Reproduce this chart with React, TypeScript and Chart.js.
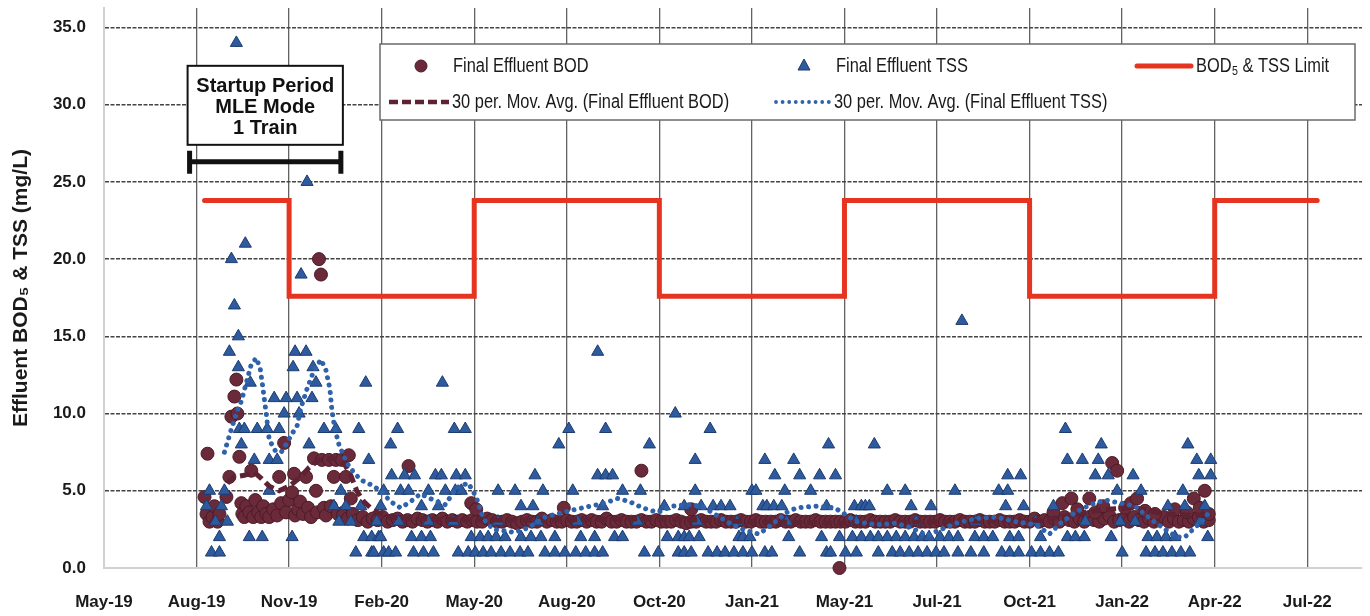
import React, { useEffect, useRef } from 'react';
import { Chart, registerables } from 'chart.js';

Chart.register(...registerables);

// ---------------- data ----------------
const xTickLabels = ['May-19', 'Aug-19', 'Nov-19', 'Feb-20', 'May-20', 'Aug-20', 'Oct-20', 'Jan-21', 'May-21', 'Jul-21', 'Oct-21', 'Jan-22', 'Apr-22', 'Jul-22'];
const DAYS_PER_TICK = 93;
const X_MAX_DAYS = 1264;
const yTickValues = [0, 5, 10, 15, 20, 25, 30, 35];
const Y_MAX = 36.26;

// permit limit (value held from each change day to the next)
const limitChangeDays = [101, 186, 372, 558, 744, 930, 1116, 1219];
const limitValues = [23.8, 17.6, 23.8, 17.6, 23.8, 17.6, 23.8, 23.8];

// startup period annotation
const startupPeriodDays = [86, 238];
const startupBracketValue = 26.3;

// Final effluent TSS  [day, mg/L]
const tssSamples: [number, number][] = [
  [103, 4], [106, 5], [108, 1], [112, 3], [116, 1], [116, 2], [118, 4], [121, 5], [124, 3], [126, 14], [128, 20], [131, 17], [133, 34], [135, 15], [135, 13], [136, 9], [138, 8], [141, 9], [142, 21], [146, 2], [147, 12], [151, 7], [154, 9], [159, 2], [164, 9], [166, 7], [166, 5], [171, 11], [174, 7], [176, 9], [181, 10], [183, 11], [189, 2], [190, 13], [192, 14], [194, 11], [196, 10], [198, 19], [203, 14], [204, 25], [206, 8], [209, 11], [210, 13], [213, 12], [221, 9], [231, 4], [233, 9], [236, 3], [238, 5], [243, 4], [248, 3],
  [253, 1], [256, 9], [258, 4], [261, 2], [263, 12], [266, 7], [269, 1], [269, 2], [271, 1], [274, 3], [276, 2], [278, 2], [278, 4], [281, 1], [281, 5], [286, 1], [288, 8], [289, 6], [293, 1], [295, 9], [296, 3], [298, 5], [302, 6], [306, 5], [309, 2], [311, 1], [312, 6], [319, 2], [319, 4], [321, 1], [326, 5], [326, 3], [328, 2], [331, 1], [333, 6], [336, 4], [339, 6], [340, 12], [343, 5], [351, 3], [352, 9], [353, 5], [354, 6], [356, 1], [359, 5], [363, 9], [363, 6], [366, 1], [369, 2], [373, 1], [378, 2], [381, 1], [386, 2], [389, 1], [394, 2], [396, 5], [396, 3], [399, 1], [403, 2], [408, 1], [413, 5], [418, 1], [419, 2], [419, 4], [426, 1], [429, 2], [431, 4], [433, 6], [436, 3], [439, 2], [441, 5], [443, 1], [453, 2], [453, 1], [457, 8], [463, 1], [467, 9], [471, 5], [474, 1], [476, 3], [479, 2], [484, 1], [493, 2], [493, 1], [496, 6], [496, 14], [501, 1], [501, 4], [504, 9], [504, 6], [511, 6], [513, 2], [521, 2], [521, 5],
  [536, 3], [539, 5], [543, 1], [548, 8], [557, 1], [563, 4], [566, 2], [574, 10], [577, 1], [577, 2], [583, 4], [583, 2], [583, 1], [588, 2], [590, 1], [594, 7], [594, 5], [596, 3], [598, 2], [600, 4], [607, 1], [609, 9], [612, 4], [616, 1], [620, 4], [624, 1], [629, 4], [633, 1], [636, 3], [638, 2], [642, 1], [642, 2], [649, 2], [651, 1], [651, 5], [655, 5], [662, 4], [664, 1], [664, 7], [666, 4], [671, 1], [673, 4], [674, 6], [681, 4], [684, 5], [686, 3], [688, 2], [693, 7], [699, 6], [699, 1], [710, 5], [719, 6], [721, 2], [726, 4], [726, 1], [728, 8], [730, 1], [735, 6], [739, 2], [745, 1], [752, 2], [754, 4], [756, 1], [756, 3], [761, 2], [761, 4], [765, 4], [769, 4], [770, 2], [774, 8], [778, 1], [778, 2], [787, 2], [787, 5], [792, 1], [796, 2], [800, 1], [805, 2], [805, 5], [809, 1], [811, 4], [814, 2], [816, 3], [818, 1], [822, 2], [827, 1], [829, 2], [831, 4], [836, 1], [840, 2], [844, 1], [849, 2], [855, 5], [858, 1], [858, 2], [862, 16], [871, 1], [875, 2], [876, 3], [884, 1], [884, 2], [893, 2],
  [899, 5], [902, 1], [906, 4], [908, 5], [908, 6], [910, 1], [910, 2], [919, 1], [919, 2], [921, 6], [924, 4], [932, 1], [936, 3], [941, 1], [941, 2], [950, 1], [954, 4], [959, 1], [966, 9], [968, 7], [968, 2], [976, 2], [983, 7], [985, 2], [986, 3], [996, 6], [999, 7], [1002, 8], [1009, 6], [1012, 2], [1018, 5], [1021, 3], [1023, 1], [1034, 6], [1036, 3], [1042, 5], [1047, 1], [1049, 2], [1056, 1], [1058, 2], [1064, 1], [1067, 2], [1069, 4], [1073, 1], [1076, 2], [1082, 1], [1084, 5], [1086, 4], [1089, 8], [1091, 1], [1098, 7], [1100, 6], [1101, 3], [1106, 4], [1109, 2], [1112, 7], [1112, 6],
];

// Final effluent BOD during startup  [day, mg/L]
const bodStartupSamples: [number, number][] = [
  [101, 4.6], [103, 3.5], [104, 7.4], [106, 3.0], [109, 3.3], [111, 4.0], [114, 3.0], [116, 3.5], [123, 4.6], [126, 5.9], [128, 9.8], [131, 11.1], [133, 12.2], [134, 10.0], [136, 7.2], [138, 4.2], [139, 3.5], [141, 3.3], [143, 4.0], [146, 3.6], [148, 6.3], [150, 3.3], [152, 4.4], [155, 3.6], [158, 3.3], [160, 4.0], [163, 3.5], [166, 3.3], [170, 3.8], [174, 3.4], [176, 5.9], [178, 4.2], [181, 8.1], [183, 3.6], [186, 4.4], [189, 4.9], [191, 6.1], [192, 3.4], [195, 3.8], [197, 4.3], [200, 3.5], [203, 5.9], [205, 3.9], [208, 3.3], [211, 7.1], [213, 5.0], [214, 3.6], [216, 20.0], [218, 19.0], [219, 7.0], [221, 3.9], [223, 3.4], [226, 7.0], [228, 4.0], [231, 5.9], [233, 7.0], [235, 3.5], [239, 7.0], [241, 3.6], [243, 5.9], [246, 7.3], [248, 4.5], [250, 3.3],
];

// Routine BOD results (sampled every 5 days)
const bodRoutineStartDay = 240;
const bodRoutineStepDays = 5;
const bodRoutineValues = [
  3.4, 3.2, 3.5, 3.1, 3.3, 3.0, 3.2, 3.1, 3.3, 3.0, 3.1, 3.2, 3.0, 3.1, 3.0, 3.2, 3.1, 3.0, 3.1, 3.0, 3.2, 3.0, 3.1, 3.0, 3.1,
  3.0, 3.1, 3.0, 3.0, 3.2, 3.1, 3.0, 3.0, 3.1, 3.0, 2.9, 3.0, 3.1, 3.0, 3.0, 3.2, 3.0, 3.1, 3.0, 3.0, 3.1, 3.0, 3.0, 3.1, 3.0,
  3.1, 3.0, 3.0, 3.2, 3.0, 3.0, 3.1, 3.0, 3.0, 3.0, 3.1, 3.0, 3.0, 3.1, 3.0, 3.0, 3.0, 3.1, 3.0, 2.9, 3.0, 3.0, 3.1, 3.0, 3.0,
  3.0, 3.1, 3.0, 3.0, 3.0, 3.1, 3.0, 3.0, 3.1, 3.0, 3.0, 3.0, 3.0, 3.1, 3.0, 3.0, 3.1, 3.0, 3.0, 3.0, 3.1, 3.0, 3.0, 3.0, 3.0,
  3.0, 3.0, 3.1, 3.0, 3.0, 3.0, 3.1, 3.0, 3.0, 3.0, 3.0, 3.1, 3.0, 3.0, 3.0, 3.1, 3.0, 3.0, 3.0, 3.0, 3.1, 3.0, 3.0, 3.0, 3.1,
  3.0, 3.0, 3.0, 3.1, 3.0, 3.0, 3.0, 3.1, 3.0, 3.0, 3.0, 3.1, 3.0, 3.0, 3.2, 3.0, 3.1, 3.0, 3.2, 3.0, 3.3, 3.1, 3.0, 3.2, 3.0,
  3.3, 3.1, 3.0, 3.2, 3.4, 3.0, 3.1, 3.2, 3.0, 3.3, 3.1, 3.0, 3.2, 3.0, 3.1, 3.3, 3.0, 3.2, 3.0, 3.1, 3.0, 3.2, 3.3, 3.0, 3.1,
];

// BOD results off the routine level  [day, mg/L]
const bodEventSamples: [number, number][] = [
  [306, 6.6], [369, 4.2], [374, 3.8], [462, 3.9], [540, 6.3], [590, 3.8], [739, 0.0], [954, 3.6], [963, 4.2], [972, 4.5], [978, 3.8], [990, 4.5], [996, 3.6], [1004, 4.0], [1013, 6.8], [1018, 6.3], [1026, 3.9], [1032, 4.2], [1038, 4.5], [1046, 3.7], [1056, 3.5], [1076, 3.8], [1088, 3.6], [1095, 4.5], [1101, 3.9], [1106, 5.0], [1110, 3.5],
];

// 30-period moving averages  [day, mg/L]
const tssMovingAvg: [number, number][] = [
  [121, 7.5], [128, 9.0], [134, 10.2], [138, 10.8], [143, 12.0], [148, 13.2], [153, 13.6], [157, 12.9], [160, 11.5], [163, 10.0], [166, 8.3], [172, 7.6], [178, 7.5], [183, 8.0], [189, 8.7], [194, 9.2], [198, 10.4], [204, 11.6], [211, 12.8], [218, 13.5], [223, 12.8], [227, 11.6], [229, 10.2], [232, 9.0], [236, 8.0], [244, 6.8], [251, 6.2], [258, 5.7], [268, 5.4], [278, 5.0], [288, 4.3], [298, 3.9], [308, 4.3], [318, 4.8], [331, 4.4], [343, 4.1], [354, 5.2], [366, 5.5], [374, 4.6], [381, 3.2], [391, 2.5], [403, 2.4], [413, 2.3], [426, 2.6], [443, 3.3], [461, 3.6], [481, 3.9], [503, 4.2], [516, 4.5], [528, 4.3], [541, 3.9], [556, 3.6], [571, 4.0], [586, 4.1], [601, 4.0], [616, 3.4], [631, 2.8], [646, 2.4], [658, 2.2], [671, 2.8], [686, 3.6], [696, 3.9], [716, 4.0], [734, 3.9], [744, 3.5], [756, 3.0], [776, 2.8], [796, 2.9], [811, 2.6], [827, 2.1], [841, 2.5], [856, 2.9], [876, 3.2], [896, 3.3], [916, 3.0], [936, 2.8], [950, 2.2], [961, 2.9], [976, 3.6], [991, 4.1], [1006, 4.4], [1021, 4.2], [1036, 4.0], [1051, 3.2], [1066, 2.5], [1078, 2.0], [1086, 2.0], [1096, 2.6], [1106, 3.2], [1112, 3.8],
];
const bodMovingAvg: [number, number][] = [
  [124, 5.5], [131, 5.9], [141, 6.0], [151, 6.2], [158, 5.8], [166, 5.3], [176, 5.0], [186, 5.3], [196, 5.8], [206, 6.5], [216, 7.0], [231, 7.1], [241, 6.8], [248, 6.0], [254, 5.0], [261, 4.3], [271, 3.7], [286, 3.3], [316, 3.2], [376, 3.1], [456, 3.1], [546, 3.2], [646, 3.0], [746, 2.9], [846, 3.0], [946, 3.1], [976, 3.5], [1006, 3.8], [1036, 3.9], [1066, 3.5], [1096, 3.4], [1112, 3.5],
];

// ---------------- styling ----------------
const BOD_FILL = '#6b2a39';
const BOD_EDGE = '#4a1b27';
const TSS_FILL = '#2d5b9e';
const TSS_EDGE = '#1c3b6f';
const LIMIT_RED = '#e5341f';
const TSS_AVG = '#2f62ab';
const BOD_AVG = '#5e2232';
const TEXT = '#1a1a1a';

function fontAvailable(name: string): boolean {
  const c = document.createElement('canvas').getContext('2d');
  if (!c) return false;
  const t = 'abcdefghijklmnopqrstuvwxyz ABCDEFGHIJ 0123456789';
  c.font = '40px monospace';
  const w0 = c.measureText(t).width;
  c.font = `40px "${name}", monospace`;
  const w1 = c.measureText(t).width;
  return Math.abs(w0 - w1) > 0.5;
}
const HAS_NARROW = typeof document !== 'undefined' && fontAvailable('Liberation Sans Narrow');
const NARROW_FAMILY = HAS_NARROW ? '"Liberation Sans Narrow", "Liberation Sans", Arial, sans-serif' : '"Liberation Sans", Arial, sans-serif';
const tickFont = HAS_NARROW ? { family: NARROW_FAMILY, size: 20, weight: 'bold' as const } : { family: NARROW_FAMILY, size: 17, weight: 'bold' as const };
const titleFont = HAS_NARROW ? { family: NARROW_FAMILY, size: 26, weight: 'bold' as const, lineHeight: 1.2 } : { family: NARROW_FAMILY, size: 21, weight: 'bold' as const, lineHeight: 1.2 };

function narrowText(ctx: CanvasRenderingContext2D, text: string, x: number, y: number, size: number, bold = false): number {
  ctx.save();
  let w: number;
  if (HAS_NARROW) {
    ctx.font = `${bold ? 'bold ' : ''}${size}px "Liberation Sans Narrow"`;
    ctx.fillText(text, x, y);
    w = ctx.measureText(text).width;
  } else {
    ctx.font = `${bold ? 'bold ' : ''}${size}px "Liberation Sans"`;
    w = ctx.measureText(text).width * 0.82;
    ctx.translate(x, y);
    ctx.scale(0.82, 1);
    ctx.fillText(text, 0, 0);
  }
  ctx.restore();
  return w;
}

const overlayPlugin = {
  id: 'overlay',
  afterDatasetsDraw(chart: any) {
    const ctx: CanvasRenderingContext2D = chart.ctx;
    const xs = chart.scales.x;
    const ys = chart.scales.y;
    ctx.save();

    // ----- legend -----
    const L = { left: 380, top: 44, right: 1355, bottom: 120 };
    ctx.fillStyle = '#ffffff';
    ctx.fillRect(L.left, L.top, L.right - L.left, L.bottom - L.top);
    ctx.strokeStyle = '#6a6a6a';
    ctx.lineWidth = 1.5;
    ctx.strokeRect(L.left, L.top, L.right - L.left, L.bottom - L.top);
    const r1 = 66;
    const r2 = 102;
    ctx.textBaseline = 'middle';
    ctx.textAlign = 'left';

    ctx.beginPath();
    ctx.arc(421, r1, 6, 0, Math.PI * 2);
    ctx.fillStyle = BOD_FILL;
    ctx.fill();
    ctx.strokeStyle = BOD_EDGE;
    ctx.lineWidth = 1;
    ctx.stroke();
    ctx.fillStyle = TEXT;
    narrowText(ctx, 'Final Effluent BOD', 453, r1, 20);

    ctx.beginPath();
    ctx.moveTo(804, r1 - 7);
    ctx.lineTo(810, r1 + 4);
    ctx.lineTo(798, r1 + 4);
    ctx.closePath();
    ctx.fillStyle = TSS_FILL;
    ctx.fill();
    ctx.strokeStyle = TSS_EDGE;
    ctx.stroke();
    ctx.fillStyle = TEXT;
    narrowText(ctx, 'Final Effluent TSS', 836, r1, 20);

    ctx.beginPath();
    ctx.moveTo(1137, r1);
    ctx.lineTo(1191, r1);
    ctx.strokeStyle = LIMIT_RED;
    ctx.lineWidth = 5;
    ctx.lineCap = 'round';
    ctx.stroke();
    ctx.fillStyle = TEXT;
    let tx = 1196;
    tx += narrowText(ctx, 'BOD', tx, r1, 20);
    tx += narrowText(ctx, '5', tx + 0.5, r1 + 5, 13) + 0.5;
    narrowText(ctx, ' & TSS Limit', tx, r1, 20);

    ctx.beginPath();
    ctx.setLineDash([9, 4]);
    ctx.lineCap = 'butt';
    ctx.moveTo(389, r2);
    ctx.lineTo(449, r2);
    ctx.strokeStyle = BOD_AVG;
    ctx.lineWidth = 4.5;
    ctx.stroke();
    ctx.setLineDash([]);
    ctx.fillStyle = TEXT;
    narrowText(ctx, '30 per. Mov. Avg. (Final Effluent BOD)', 452, r2, 20);

    ctx.fillStyle = TSS_AVG;
    for (let dx = 776; dx <= 829; dx += 6.6) {
      ctx.beginPath();
      ctx.arc(dx, r2, 1.9, 0, Math.PI * 2);
      ctx.fill();
    }
    ctx.fillStyle = TEXT;
    narrowText(ctx, '30 per. Mov. Avg. (Final Effluent TSS)', 834, r2, 20);

    // ----- startup period annotation -----
    const bx0 = xs.getPixelForValue(startupPeriodDays[0]);
    const bx1 = xs.getPixelForValue(startupPeriodDays[1]);
    const by = ys.getPixelForValue(startupBracketValue);
    const boxL = bx0 - 2;
    const boxR = bx1 + 2;
    const boxT = by - 96;
    const boxB = by - 17;
    ctx.fillStyle = '#ffffff';
    ctx.fillRect(boxL, boxT, boxR - boxL, boxB - boxT);
    ctx.strokeStyle = '#111';
    ctx.lineWidth = 2;
    ctx.strokeRect(boxL, boxT, boxR - boxL, boxB - boxT);
    ctx.fillStyle = '#111';
    ctx.textAlign = 'center';
    ctx.font = 'bold 20px "Liberation Sans", Arial, sans-serif';
    const cx = (boxL + boxR) / 2;
    ctx.fillText('Startup Period', cx, boxT + 21);
    ctx.fillText('MLE Mode', cx, boxT + 42);
    ctx.fillText('1 Train', cx, boxT + 63);

    ctx.beginPath();
    ctx.strokeStyle = '#111';
    ctx.lineWidth = 5;
    ctx.lineCap = 'butt';
    ctx.moveTo(bx0, by);
    ctx.lineTo(bx1, by);
    ctx.moveTo(bx0, by - 11);
    ctx.lineTo(bx0, by + 12);
    ctx.moveTo(bx1, by - 11);
    ctx.lineTo(bx1, by + 12);
    ctx.stroke();

    ctx.restore();
  },
};

const toXY = (arr: [number, number][]) => arr.map(([x, y]) => ({ x, y }));

export default function App() {
  const ref = useRef<HTMLCanvasElement>(null);

  useEffect(() => {
    const canvas = ref.current;
    if (!canvas) return;

    const bodRoutine: [number, number][] = bodRoutineValues.map((v, i) => [bodRoutineStartDay + i * bodRoutineStepDays, v]);
    const bodAll = [...bodStartupSamples, ...bodRoutine, ...bodEventSamples];
    const limitData = limitChangeDays.map((d, i) => ({ x: d, y: limitValues[i] }));

    const chart = new Chart(canvas, {
      type: 'scatter',
      data: {
        datasets: [
          {
            label: 'BOD5 & TSS Limit',
            data: limitData,
            showLine: true,
            stepped: true,
            borderColor: LIMIT_RED,
            borderWidth: 5,
            borderCapStyle: 'round',
            borderJoinStyle: 'miter',
            pointRadius: 0,
            order: 0,
          } as any,
          {
            label: '30 per. Mov. Avg. (Final Effluent TSS)',
            data: toXY(tssMovingAvg),
            showLine: true,
            borderColor: TSS_AVG,
            borderWidth: 5,
            borderDash: [0.01, 7.5],
            borderCapStyle: 'round',
            pointRadius: 0,
            order: 1,
          } as any,
          {
            label: '30 per. Mov. Avg. (Final Effluent BOD)',
            data: toXY(bodMovingAvg),
            showLine: true,
            borderColor: BOD_AVG,
            borderWidth: 5,
            borderDash: [10, 5],
            pointRadius: 0,
            order: 2,
          } as any,
          {
            label: 'Final Effluent TSS',
            data: toXY(tssSamples),
            pointStyle: 'triangle',
            pointRadius: 7,
            backgroundColor: TSS_FILL,
            borderColor: TSS_EDGE,
            borderWidth: 1,
            order: 3,
          } as any,
          {
            label: 'Final Effluent BOD',
            data: toXY(bodAll),
            pointStyle: 'circle',
            pointRadius: 6.5,
            backgroundColor: BOD_FILL,
            borderColor: BOD_EDGE,
            borderWidth: 1,
            clip: false,
            order: 4,
          } as any,
        ],
      },
      options: {
        responsive: false,
        animation: false,
        events: [],
        layout: { padding: { top: 5, right: 3, bottom: 0, left: 0 } },
        plugins: {
          legend: { display: false },
          tooltip: { enabled: false },
        },
        scales: {
          x: {
            type: 'linear',
            min: 0,
            max: X_MAX_DAYS,
            afterBuildTicks: (s: any) => {
              s.ticks = xTickLabels.map((_, i) => ({ value: i * DAYS_PER_TICK }));
            },
            afterFit: (s: any) => {
              s.height = 48;
            },
            ticks: {
              callback: (v: any) => xTickLabels[Math.round(Number(v) / DAYS_PER_TICK)] ?? '',
              font: tickFont,
              color: TEXT,
              padding: 24,
              maxRotation: 0,
              autoSkip: false,
            },
            grid: {
              color: (c: any) => (c.index === 0 ? 'rgba(0,0,0,0)' : '#626262'),
              lineWidth: 1.3,
              drawTicks: false,
            },
            border: { display: true, color: '#d2d2d2', width: 2 },
          },
          y: {
            type: 'linear',
            min: 0,
            max: Y_MAX,
            afterBuildTicks: (s: any) => {
              s.ticks = yTickValues.map((v) => ({ value: v }));
            },
            afterFit: (s: any) => {
              s.width = 104;
              s.paddingTop = 0;
              s.paddingBottom = 0;
            },
            ticks: {
              callback: (v: any) => Number(v).toFixed(1),
              font: tickFont,
              color: TEXT,
              padding: 18,
            },
            grid: {
              color: (c: any) => (c.index === 0 ? 'rgba(0,0,0,0)' : '#454545'),
              lineWidth: 1.6,
              drawTicks: false,
            },
            border: { display: true, color: '#d2d2d2', width: 2, dash: [4, 1.5] },
            title: {
              display: true,
              text: 'Effluent BOD\u2085 & TSS (mg/L)',
              font: titleFont,
              color: TEXT,
              padding: { top: 9, bottom: 0 },
            },
          },
        },
      } as any,
      plugins: [overlayPlugin],
    });

    return () => chart.destroy();
  }, []);

  return (
    <div style={{ position: 'fixed', left: 0, top: 0, width: 1370, height: 616, background: '#ffffff' }}>
      <canvas ref={ref} width={1370} height={616} style={{ display: 'block', width: 1370, height: 616 }} />
    </div>
  );
}
